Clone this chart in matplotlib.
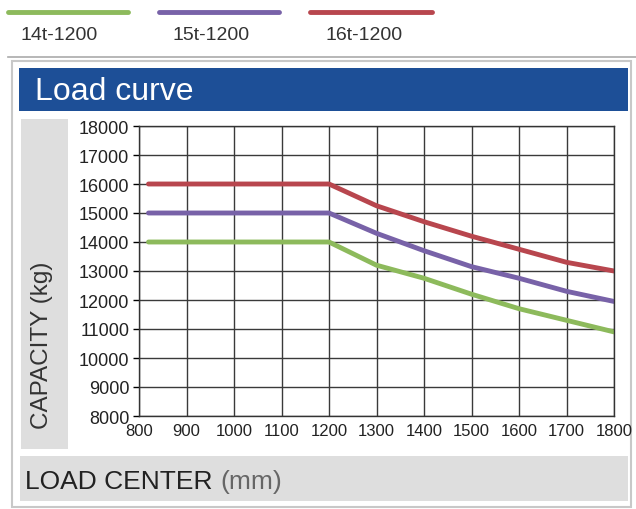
import matplotlib.pyplot as plt
from matplotlib.patches import Rectangle
from matplotlib.lines import Line2D

plt.rcParams['font.family'] = ['Liberation Sans', 'DejaVu Sans']

# data
load_center = [820, 1200, 1300, 1400, 1500, 1600, 1700, 1800]
cap_14t = [14000, 14000, 13200, 12750, 12200, 11700, 11300, 10900]
cap_15t = [15000, 15000, 14300, 13700, 13150, 12750, 12300, 11950]
cap_16t = [16000, 16000, 15250, 14700, 14200, 13750, 13300, 13000]
series_names = ["14t-1200", "15t-1200", "16t-1200"]
series_colors = ["#8dba5c", "#7862a8", "#b8464e"]
xticks = list(range(800, 1900, 100))
yticks = list(range(8000, 19000, 1000))

W, H = 636, 510
fig = plt.figure(figsize=(W / 100, H / 100), dpi=100)

def fx(px):
    return px / W

def fy(py):
    return 1 - py / H

def box(x0, y0, x1, y1, **kw):
    # rectangle given in pixel coords, top-left origin
    return Rectangle((fx(x0), fy(y1)), fx(x1) - fx(x0), fy(y0) - fy(y1), **kw)

# legend at top, drawn by hand
leg_x = [(8, 128), (159, 279), (310, 432)]
lab_x = [20, 172, 325]
for (x0, x1), lx, name, col in zip(leg_x, lab_x, series_names, series_colors):
    fig.add_artist(Line2D([fx(x0), fx(x1)], [fy(13), fy(13)], color=col, lw=3.5,
                          solid_capstyle='round'))
    fig.text(fx(lx), fy(36), name, fontsize=14, color="#333333", va='center')

fig.add_artist(Line2D([fx(8), fx(636)], [fy(58), fy(58)], color="#aaaaaa", lw=1.2))

# panel frame
fig.add_artist(box(12, 62, 631, 508, fill=False, edgecolor="#c8c8c8", lw=1.5))
# title bar
fig.add_artist(box(19, 69, 628, 112, facecolor="#1d4f97", edgecolor="none"))
fig.text(fx(35), fy(92), "Load curve", fontsize=23, color="white", va='center')
# side band for y label
fig.add_artist(box(21, 120, 68, 450, facecolor="#dedede", edgecolor="none"))
fig.text(fx(42), fy(345), "CAPACITY (kg)", fontsize=17.5, color="#333333",
         rotation=90, ha='center', va='center')
# bottom band
fig.add_artist(box(20, 457, 628, 502, facecolor="#dedede", edgecolor="none"))
t = fig.text(fx(25), fy(482), "LOAD CENTER ", fontsize=19, color="#222222", va='center')
fig.canvas.draw()
bb = t.get_window_extent()
fig.text(bb.x1 / W, fy(482), "(mm)", fontsize=19, color="#666666", va='center')

ax = fig.add_axes([fx(139), fy(417), fx(614) - fx(139), fy(127) - fy(417)])
ax.set_zorder(3)
ax.plot(load_center, cap_14t, color=series_colors[0], lw=3.5, solid_capstyle='round')
ax.plot(load_center, cap_15t, color=series_colors[1], lw=3.5, solid_capstyle='round')
ax.plot(load_center, cap_16t, color=series_colors[2], lw=3.5, solid_capstyle='round')

ax.set_xlim(800, 1800)
ax.set_ylim(8000, 18000)
ax.set_xticks(xticks)
ax.set_yticks(yticks)
ax.set_xticklabels([str(t) for t in xticks], fontsize=12, color="#222222")
ax.set_yticklabels([str(t) for t in yticks], fontsize=13, color="#222222")
ax.tick_params(axis='x', length=0, pad=5)
ax.tick_params(axis='y', length=4, width=1, pad=3)
ax.grid(True, color="#3a3a3a", lw=1)
for s in ax.spines.values():
    s.set_color("#333333")
    s.set_linewidth(1)

fig.savefig("out.png", dpi=100)
